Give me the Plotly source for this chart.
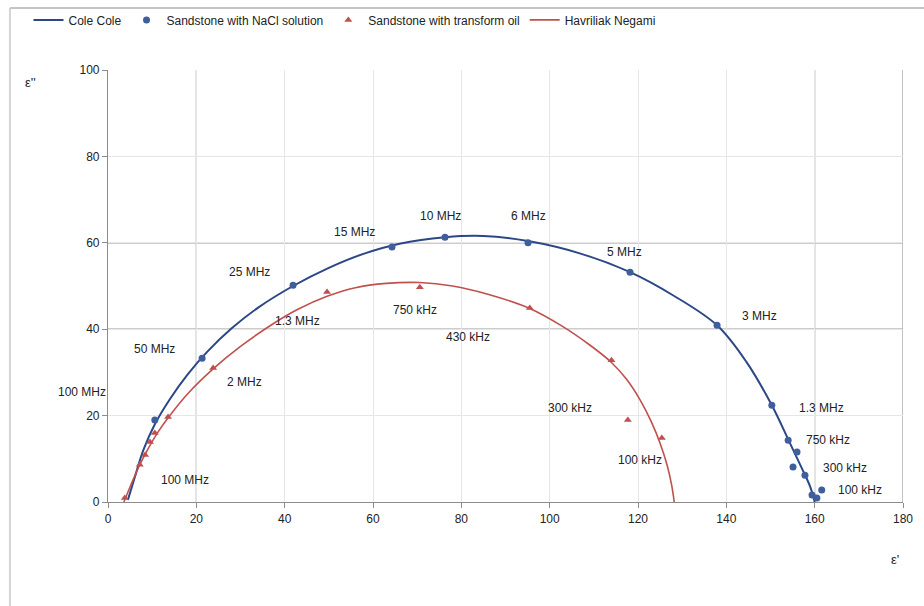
import plotly.graph_objects as go

# ---- data ----
nacl_x = [10.6, 21.3, 41.9, 64.3, 76.3, 95.1, 118.2, 137.9, 150.3, 154.0, 156.0, 155.1, 157.8, 159.4, 161.6, 160.5]
nacl_y = [19.0, 33.3, 50.2, 59.0, 61.3, 60.0, 53.2, 40.9, 22.4, 14.3, 11.6, 8.1, 6.2, 1.6, 2.8, 0.9]

oil_x = [3.8, 7.2, 8.4, 9.5, 10.6, 13.6, 23.8, 49.6, 70.6, 95.5, 114.0, 117.7, 125.4]
oil_y = [0.9, 8.6, 10.9, 13.9, 16.0, 19.7, 31.0, 48.6, 49.7, 44.9, 32.8, 19.0, 14.8]

cole_x = [4.5, 6.0, 8.0, 10.6, 14.0, 18.0, 22.5, 28.0, 34.0, 41.9, 50.0, 58.0, 66.0, 76.3, 85.0, 95.1, 107.0, 118.2, 128.0, 137.9, 144.5, 150.3, 154.0, 157.0, 159.0, 160.0]
cole_y = [0.5, 5.5, 12.0, 18.0, 23.8, 29.5, 34.8, 40.2, 45.0, 50.0, 54.2, 57.5, 59.8, 61.3, 61.6, 60.4, 57.5, 53.2, 47.8, 40.9, 32.5, 22.4, 14.5, 8.0, 3.5, 0.0]

hn_x = [3.6, 5.2, 7.0, 9.0, 11.2, 14.0, 18.0, 23.8, 30.0, 36.7, 43.0, 49.6, 56.0, 63.0, 70.6, 78.0, 86.0, 95.5, 103.0, 109.0, 114.0, 117.5, 120.5, 123.0, 125.0, 126.6, 127.6, 128.2]
hn_y = [0.0, 4.0, 8.2, 12.2, 16.0, 20.0, 25.0, 30.8, 36.0, 40.8, 44.6, 47.6, 49.6, 50.6, 50.8, 50.0, 48.1, 44.8, 40.6, 36.4, 32.3, 28.3, 23.6, 18.6, 13.6, 8.5, 4.0, 0.0]

# frequency labels (text, centre point in data units)
blue_lbl = ["100 MHz", "50 MHz", "25 MHz", "15 MHz", "10 MHz", "6 MHz", "5 MHz", "3 MHz", "1.3 MHz", "750 kHz", "300 kHz", "100 kHz"]
blue_lbl_x = [0.0, 10.6, 32.1, 55.9, 75.2, 95.1, 117.0, 147.6, 161.6, 163.0, 166.9, 170.2]
blue_lbl_y = [25.4, 35.4, 53.2, 62.4, 66.1, 66.1, 57.8, 43.0, 21.7, 14.3, 7.9, 2.8]
blue_lbl_anchor = ["right", "center", "center", "center", "center", "center", "center", "center", "center", "center", "center", "center"]

red_lbl = ["100 MHz", "2 MHz", "1.3 MHz", "750 kHz", "430 kHz", "300 kHz", "100 kHz"]
red_lbl_x = [17.4, 31.0, 42.8, 69.5, 81.5, 104.6, 120.4]
red_lbl_y = [5.1, 27.7, 41.8, 44.4, 38.2, 21.7, 9.7]

x_ticks = [0, 20, 40, 60, 80, 100, 120, 140, 160, 180]
y_ticks = [0, 20, 40, 60, 80, 100]
x_major_grid = [20, 160, 180]
y_major_grid = [40, 60]

BLUE_LINE = "#2B4787"
BLUE_MARK = "#3F5E9E"
RED = "#C0504D"
FONT = "Liberation Sans"

fig = go.Figure()
fig.add_trace(go.Scatter(x=cole_x, y=cole_y, mode="lines", name="Cole Cole",
                         line=dict(color=BLUE_LINE, width=2, shape="spline", smoothing=1.0)))
fig.add_trace(go.Scatter(x=nacl_x, y=nacl_y, mode="markers", name="Sandstone with NaCl solution",
                         marker=dict(symbol="circle", size=7, color=BLUE_MARK)))
fig.add_trace(go.Scatter(x=oil_x, y=oil_y, mode="markers", name="Sandstone with transform oil",
                         marker=dict(symbol="triangle-up", size=7, color=RED)))
fig.add_trace(go.Scatter(x=hn_x, y=hn_y, mode="lines", name="Havriliak Negami",
                         line=dict(color=RED, width=1.6, shape="spline", smoothing=1.0)))

ann = []
for t, x, y, a in zip(blue_lbl, blue_lbl_x, blue_lbl_y, blue_lbl_anchor):
    ann.append(dict(x=x, y=y, text=t, showarrow=False, xanchor=a, yanchor="middle",
                    font=dict(size=12, color="#222", family=FONT)))
for t, x, y in zip(red_lbl, red_lbl_x, red_lbl_y):
    ann.append(dict(x=x, y=y, text=t, showarrow=False, xanchor="center", yanchor="middle",
                    font=dict(size=12, color="#222", family=FONT)))
ann.append(dict(xref="paper", yref="paper", x=-0.098, y=0.972, text="ε''", showarrow=False,
                xanchor="center", yanchor="middle",
                font=dict(size=13, color="#222", family=FONT)))
ann.append(dict(xref="paper", yref="paper", x=0.99, y=-0.134, text="ε'", showarrow=False,
                xanchor="center", yanchor="middle",
                font=dict(size=13, color="#222", family=FONT)))

shapes = []
for gx in x_major_grid:
    shapes.append(dict(type="line", xref="x", yref="paper", x0=gx, x1=gx, y0=0, y1=1,
                       line=dict(color="#9a9a9a", width=1.2), layer="below"))
for gy in y_major_grid:
    shapes.append(dict(type="line", xref="paper", yref="paper", x0=0, x1=1,
                       y0=gy / 100, y1=gy / 100,
                       line=dict(color="#9a9a9a", width=1.2), layer="below"))
# outer chart frame (top and left edges visible)
shapes.append(dict(type="line", xref="paper", yref="paper", x0=-0.1233, x1=1.05, y0=1.1435, y1=1.1435,
                   line=dict(color="#b0b0b0", width=1.5)))
shapes.append(dict(type="line", xref="paper", yref="paper", x0=-0.1233, x1=-0.1233, y0=1.1435, y1=-0.25,
                   line=dict(color="#c8c8c8", width=1.5)))

fig.update_layout(
    width=924, height=606,
    margin=dict(l=108, r=21, t=70, b=104, autoexpand=False),
    paper_bgcolor="white", plot_bgcolor="white",
    font=dict(family=FONT, size=12, color="#222"),
    showlegend=True,
    legend=dict(orientation="h", x=-0.1, y=1.116, xanchor="left", yanchor="middle",
                font=dict(size=12, family=FONT), itemwidth=30, tracegroupgap=0,
                bgcolor="rgba(0,0,0,0)"),
    annotations=ann,
    shapes=shapes,
    xaxis=dict(range=[0, 180], tickvals=x_ticks, showgrid=True, gridcolor="#e6e6e6",
               zeroline=False, showline=True, linecolor="#8c8c8c", linewidth=1.2,
               ticks="outside", ticklen=5, tickcolor="#8c8c8c", tickfont=dict(size=12)),
    yaxis=dict(range=[0, 100], tickvals=y_ticks, showgrid=True, gridcolor="#e6e6e6",
               zeroline=False, showline=True, linecolor="#8c8c8c", linewidth=1.2,
               ticks="outside", ticklen=5, tickcolor="#8c8c8c", tickfont=dict(size=12)),
)

fig.write_html("out.html")
